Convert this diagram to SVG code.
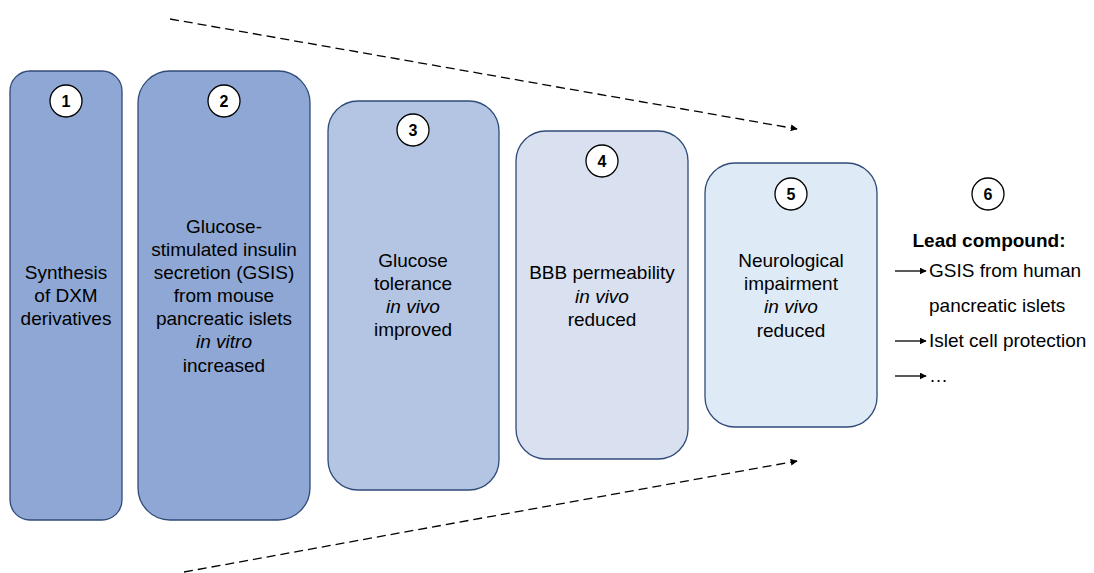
<svg xmlns="http://www.w3.org/2000/svg" width="1094" height="573" viewBox="0 0 1094 573">
<defs>
<marker id="ah" viewBox="0 0 10 10" refX="9" refY="5" markerWidth="7" markerHeight="7" markerUnits="userSpaceOnUse" orient="auto"><path d="M0,0 L10,5 L0,10 z" fill="#000"/></marker>
<style>
.box{stroke:#2F4B78;stroke-width:1.3}
.num{fill:#fff;stroke:#000;stroke-width:1.3}
.nt{font-family:"Liberation Sans",Arial,sans-serif;font-size:16px;font-weight:bold;text-anchor:middle;fill:#000}
.t{font-family:"Liberation Sans",Arial,sans-serif;font-size:19px;text-anchor:middle;fill:#000}
.l{font-family:"Liberation Sans",Arial,sans-serif;font-size:19px;fill:#000}
.i{font-style:italic}
.dash{stroke:#000;stroke-width:1.3;stroke-dasharray:9 5;fill:none}
.ar{stroke:#000;stroke-width:1.3;fill:none}
</style>
</defs>
<g id="connectors">
<line class="dash" x1="170" y1="19" x2="797" y2="129" marker-end="url(#ah)"/>
<line class="dash" x1="184" y1="572" x2="797" y2="461" marker-end="url(#ah)"/>
<line class="ar" x1="895" y1="271" x2="926" y2="271" marker-end="url(#ah)"/>
<line class="ar" x1="895" y1="341" x2="926" y2="341" marker-end="url(#ah)"/>
<line class="ar" x1="895" y1="376" x2="926" y2="376" marker-end="url(#ah)"/>
</g>
<g id="node1">
<rect class="box" x="10" y="71" width="112" height="449" rx="20" fill="#8EA7D5"/>
<circle class="num" cx="66" cy="101" r="16"/><text class="nt" x="66" y="107">1</text>
<text class="t" x="66" y="279">Synthesis</text>
<text class="t" x="66" y="302">of DXM</text>
<text class="t" x="66" y="325">derivatives</text>
</g>
<g id="node2">
<rect class="box" x="138" y="71" width="172" height="449" rx="32" fill="#8EA7D5"/>
<circle class="num" cx="224" cy="101" r="16"/><text class="nt" x="224" y="107">2</text>
<text class="t" x="224" y="233">Glucose-</text>
<text class="t" x="224" y="256">stimulated insulin</text>
<text class="t" x="224" y="279">secretion (GSIS)</text>
<text class="t" x="224" y="302">from mouse</text>
<text class="t" x="224" y="325">pancreatic islets</text>
<text class="t i" x="224" y="348">in vitro</text>
<text class="t" x="224" y="372">increased</text>
</g>
<g id="node3">
<rect class="box" x="328" y="101" width="171" height="389" rx="30" fill="#B4C5E4"/>
<circle class="num" cx="413" cy="130" r="16"/><text class="nt" x="413" y="136">3</text>
<text class="t" x="413" y="267">Glucose</text>
<text class="t" x="413" y="290">tolerance</text>
<text class="t i" x="413" y="313">in vivo</text>
<text class="t" x="413" y="336">improved</text>
</g>
<g id="node4">
<rect class="box" x="516" y="131" width="172" height="328" rx="30" fill="#D9E0F0"/>
<circle class="num" cx="602" cy="161" r="16"/><text class="nt" x="602" y="167">4</text>
<text class="t" x="602" y="279">BBB permeability</text>
<text class="t i" x="602" y="303">in vivo</text>
<text class="t" x="602" y="326">reduced</text>
</g>
<g id="node5">
<rect class="box" x="705" y="163" width="172" height="264" rx="30" fill="#DEEAF6"/>
<circle class="num" cx="791" cy="194" r="16"/><text class="nt" x="791" y="200">5</text>
<text class="t" x="791" y="267">Neurological</text>
<text class="t" x="791" y="290">impairment</text>
<text class="t i" x="791" y="313">in vivo</text>
<text class="t" x="791" y="337">reduced</text>
</g>
<g id="node6">
<circle class="num" cx="988" cy="194" r="16"/><text class="nt" x="988" y="200">6</text>
<text class="t" x="989" y="247" font-weight="bold">Lead compound:</text>
<text class="l" x="929" y="277">GSIS from human</text>
<text class="l" x="929" y="312">pancreatic islets</text>
<text class="l" x="929" y="347">Islet cell protection</text>
<text class="l" x="929" y="382">…</text>
</g>
</svg>
